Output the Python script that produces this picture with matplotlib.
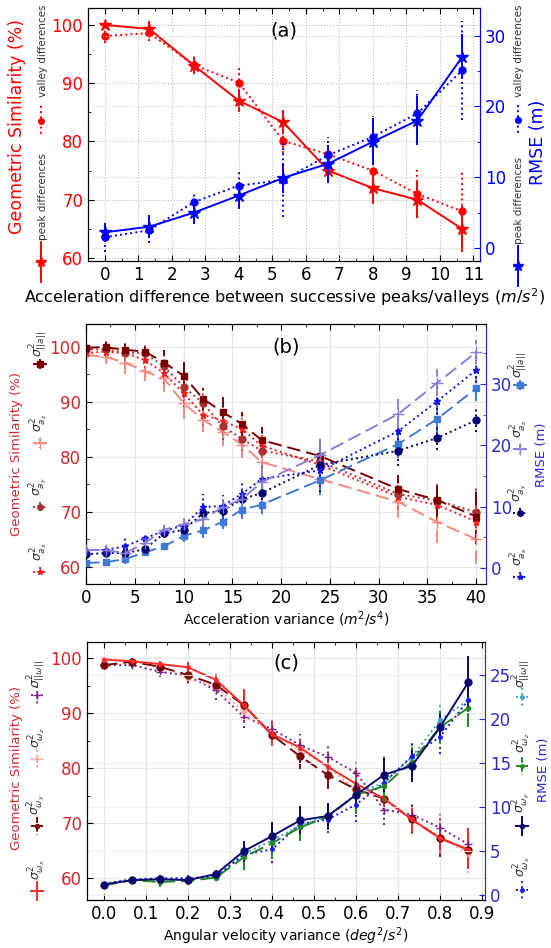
import numpy as np
import matplotlib.pyplot as plt
from matplotlib.lines import Line2D
from matplotlib.ticker import MultipleLocator, FormatStrFormatter

W, H = 551, 948

# (a) similarity / RMSE vs acceleration difference of successive extrema
acc_diff = [0, 1.33, 2.67, 4, 5.33, 6.67, 8, 9.33, 10.67]
gs_peak = [100.0, 99.3, 93.0, 87.0, 83.3, 75.0, 72.0, 70.0, 65.0]
gs_peak_err = [0.5, 1.3, 1.5, 1.9, 2.1, 2.0, 2.7, 3.0, 3.9]
gs_valley = [98.1, 98.6, 93.1, 90.1, 80.1, 77.8, 75.0, 71.0, 68.0]
gs_valley_err = [1.2, 1.4, 1.5, 3.1, 2.0, 1.5, 2.6, 4.1, 7.0]
rmse_peak = [2.2, 3.0, 5.0, 7.4, 9.9, 11.9, 15.0, 18.0, 27.0]
rmse_peak_err = [1.3, 1.6, 1.6, 1.9, 2.1, 2.7, 3.3, 3.5, 3.2]
rmse_valley = [1.5, 2.5, 6.5, 8.8, 9.6, 13.1, 15.7, 19.0, 25.1]
rmse_valley_err = [2.1, 1.8, 1.4, 2.1, 5.2, 2.6, 3.0, 3.3, 7.0]

# (b) acceleration noise variance
acc_var = [0, 2, 4, 6, 8, 10, 12, 14, 16, 18, 24, 32, 36, 40]
gs_a_norm = [99.8, 99.9, 99.4, 99.1, 97.1, 94.7, 90.5, 88.1, 85.9, 83.0, 80.1, 74.1, 72.1, 69.1]
gs_a_norm_err = [0.8, 1.5, 1.3, 1.5, 2.3, 3.5, 2.0, 2.8, 2.2, 2.3, 2.8, 2.6, 3.4, 5.0]
gs_ay = [99.5, 99.5, 98.9, 98.8, 96.4, 92.7, 89.7, 85.5, 83.2, 81.1, 79.1, 73.2, 72.0, 69.9]
gs_ay_err = [1.0, 1.2, 1.5, 1.8, 2.0, 3.0, 2.3, 2.5, 2.2, 2.2, 2.5, 2.5, 3.0, 4.5]
gs_ax = [98.8, 99.1, 98.8, 97.6, 95.2, 91.5, 87.6, 86.5, 85.0, 82.0, 78.5, 72.7, 71.2, 68.2]
gs_ax_err = [0.8, 1.0, 1.2, 1.5, 2.0, 2.5, 2.0, 2.2, 2.0, 2.0, 2.3, 2.3, 2.8, 4.0]
gs_az = [98.5, 98.1, 97.1, 95.5, 94.2, 89.7, 86.7, 84.5, 82.2, 79.0, 75.9, 71.8, 68.1, 65.0]
gs_az_err = [1.0, 1.2, 2.0, 1.8, 2.5, 2.8, 2.2, 2.5, 2.5, 2.3, 2.5, 3.0, 3.8, 4.5]
rmse_az = [2.9, 2.9, 2.4, 4.0, 6.2, 7.1, 7.9, 9.9, 11.2, 14.0, 18.4, 25.1, 30.2, 35.2]
rmse_az_err = [0.6, 0.6, 0.8, 0.8, 0.8, 1.2, 1.0, 1.2, 1.2, 2.5, 2.8, 2.5, 2.2, 2.0]
rmse_ax = [2.9, 2.9, 3.5, 4.8, 6.0, 6.9, 9.9, 10.1, 12.1, 14.5, 15.9, 22.3, 27.2, 32.3]
rmse_ax_err = [0.6, 0.8, 1.5, 0.8, 0.8, 1.0, 2.2, 1.8, 2.0, 2.5, 3.5, 3.2, 3.0, 2.2]
rmse_ay = [2.2, 2.4, 2.4, 3.0, 5.6, 6.2, 8.9, 9.3, 11.2, 12.2, 16.8, 19.1, 21.2, 24.1]
rmse_ay_err = [0.5, 0.6, 1.0, 0.8, 0.8, 1.0, 2.0, 1.5, 1.5, 2.0, 3.0, 2.5, 2.0, 2.0]
rmse_a_norm = [0.8, 0.9, 1.4, 2.5, 3.5, 5.2, 6.1, 7.5, 9.5, 10.3, 14.3, 20.2, 24.3, 29.3]
rmse_a_norm_err = [0.4, 0.5, 0.8, 0.6, 0.6, 1.0, 1.2, 1.2, 1.5, 1.5, 2.5, 2.3, 2.5, 2.0]

# (c) angular velocity noise variance
ang_var = [0, 0.067, 0.133, 0.2, 0.267, 0.333, 0.4, 0.467, 0.533, 0.6, 0.667, 0.733, 0.8, 0.867]
gs_wx = [99.8, 99.5, 99.0, 98.4, 96.1, 91.5, 86.2, 83.8, 80.3, 77.2, 74.5, 70.7, 67.3, 65.2]
gs_wx_err = [0.3, 0.4, 0.6, 1.0, 1.0, 3.0, 2.2, 1.6, 2.3, 2.5, 2.3, 2.2, 2.8, 3.5]
gs_wy = [98.8, 99.4, 98.5, 97.0, 95.2, 91.5, 86.1, 82.2, 78.8, 76.2, 74.5, 70.7, 67.3, 65.2]
gs_wy_err = [0.5, 0.6, 1.0, 1.5, 1.0, 2.5, 1.5, 2.3, 2.5, 2.5, 1.8, 2.5, 3.5, 3.5]
gs_wz = [99.9, 99.4, 98.6, 96.4, 94.8, 90.3, 86.4, 83.3, 80.3, 76.1, 74.5, 70.6, 67.6, 64.4]
gs_wz_err = [0.3, 0.4, 0.8, 1.0, 1.5, 1.8, 1.6, 1.8, 2.0, 1.8, 2.0, 2.8, 3.0, 3.5]
gs_w_norm = [98.8, 98.8, 97.6, 96.8, 94.2, 89.4, 87.2, 84.2, 82.1, 79.2, 72.5, 71.6, 69.2, 66.2]
gs_w_norm_err = [0.5, 0.6, 1.0, 1.4, 1.8, 2.0, 1.6, 2.0, 2.2, 2.2, 2.8, 2.2, 2.5, 3.0]
rmse_wy = [1.2, 1.7, 1.8, 1.7, 2.4, 5.0, 6.7, 8.5, 9.0, 11.4, 13.7, 14.7, 19.1, 24.2]
rmse_wy_err = [0.3, 0.4, 0.5, 0.4, 0.5, 1.2, 1.6, 1.6, 1.5, 1.5, 2.0, 1.8, 1.5, 3.0]
rmse_wz = [1.1, 1.7, 1.5, 1.6, 2.0, 4.3, 5.9, 7.7, 8.9, 11.4, 12.4, 15.2, 19.1, 21.3]
rmse_wz_err = [0.3, 0.4, 0.6, 0.4, 0.4, 1.4, 1.8, 1.6, 1.5, 2.2, 1.8, 1.7, 1.8, 2.2]
rmse_wx = [1.3, 1.8, 1.9, 1.9, 2.1, 4.6, 5.2, 8.1, 8.6, 10.3, 12.8, 15.8, 18.0, 22.2]
rmse_wx_err = [0.3, 0.3, 0.4, 0.4, 0.4, 1.2, 1.6, 1.6, 1.5, 2.0, 1.8, 1.7, 2.0, 2.5]
rmse_w_norm = [1.2, 1.7, 1.9, 1.9, 2.1, 4.7, 6.2, 7.9, 9.0, 11.5, 12.8, 15.7, 19.9, 22.2]
rmse_w_norm_err = [0.3, 0.3, 0.4, 0.4, 0.4, 1.2, 1.4, 1.6, 1.5, 1.8, 1.8, 1.7, 2.0, 2.5]


def fx(x):
    return x / W


def fy(y):
    return 1 - y / H


def make_axes(fig, left, top, right, bottom):
    return fig.add_axes([fx(left), fy(bottom), (right - left) / W, (bottom - top) / H])


def series(ax, x, y, err, color, ls, marker, ms, lw=1.4, elw=1.4, zorder=3):
    c = ax.errorbar(x, y, yerr=err, color=color, ls=ls, lw=lw, marker=marker,
                    ms=ms, elinewidth=elw, capsize=0, zorder=zorder)
    c[2][0].set_linestyle(ls)
    return c


def handle(fig, x, y, color, ls, marker, ms, vertical, span, bar, lw=1.4):
    # legend key drawn in pixel coordinates
    if vertical:
        fig.add_artist(Line2D([fx(x)] * 2, [fy(y - span / 2), fy(y + span / 2)],
                              color=color, ls=ls, lw=lw))
        fig.add_artist(Line2D([fx(x - bar / 2), fx(x + bar / 2)], [fy(y)] * 2,
                              color=color, ls=ls, lw=lw))
    else:
        fig.add_artist(Line2D([fx(x - span / 2), fx(x + span / 2)], [fy(y)] * 2,
                              color=color, ls=ls, lw=lw))
        fig.add_artist(Line2D([fx(x)] * 2, [fy(y - bar / 2), fy(y + bar / 2)],
                              color=color, ls=ls, lw=lw))
    fig.add_artist(Line2D([fx(x)], [fy(y)], color=color, marker=marker, ms=ms, ls='none'))


def vtext(fig, x, y, s, size, color='#333333', **kw):
    fig.text(fx(x), fy(y), s, rotation=90, ha='center', va='center',
             fontsize=size, color=color, **kw)


def style_axes(ax, ax2, lcolor, rcolor, size):
    ax.tick_params(which='both', direction='in', top=True, right=False, labelsize=size)
    ax.tick_params(axis='y', labelcolor=lcolor)
    ax2.tick_params(which='both', direction='in', labelsize=size, labelcolor=rcolor,
                    color=rcolor)
    ax2.spines['right'].set_color(rcolor)
    ax.spines['right'].set_color(rcolor)
    ax.tick_params(which='major', length=4)
    ax.tick_params(which='minor', length=2)
    ax2.tick_params(which='major', length=4)
    ax2.tick_params(which='minor', length=2)


fig = plt.figure(figsize=(W / 100, H / 100), dpi=100)

# ---------------- (a) ----------------
RED, BLUE = '#ff0000', '#0000ff'
ax = make_axes(fig, 88, 8, 480, 261)
ax2 = ax.twinx()
ax.set_xlim(-0.5, 11.2)
ax.set_ylim(59.5, 102.9)
ax2.set_ylim(-1.85, 33.9)
ax.xaxis.set_major_locator(MultipleLocator(1))
ax.xaxis.set_minor_locator(MultipleLocator(0.5))
ax.yaxis.set_major_locator(MultipleLocator(10))
ax.yaxis.set_minor_locator(MultipleLocator(5))
ax2.yaxis.set_major_locator(MultipleLocator(10))
ax2.yaxis.set_minor_locator(MultipleLocator(5))
ax.grid(True, which='major', ls=':', color='#bbbbbb', lw=0.8)
ax2.grid(True, which='major', axis='y', ls=':', color='#cccccc', lw=0.8)
style_axes(ax, ax2, RED, BLUE, 12)

series(ax, acc_diff, gs_peak, gs_peak_err, RED, '-', '*', 9)
series(ax, acc_diff, gs_valley, gs_valley_err, RED, ':', 'o', 5)
series(ax2, acc_diff, rmse_peak, rmse_peak_err, BLUE, '-', '*', 9)
series(ax2, acc_diff, rmse_valley, rmse_valley_err, BLUE, ':', 'o', 5)

ax.set_xlabel('Acceleration difference between successive peaks/valleys ($m/s^2$)',
              fontsize=11.5, labelpad=2)
ax.text(0.5, 0.91, '(a)', transform=ax.transAxes, ha='center', va='center', fontsize=14)
vtext(fig, 17, 127, 'Geometric Similarity (%)', 12.5, RED)
vtext(fig, 538, 142, 'RMSE (m)', 12.5, BLUE)
vtext(fig, 43, 51, 'valley differences', 7.5)
vtext(fig, 43, 197, 'peak differences', 7.5)
vtext(fig, 519, 51, 'valley differences', 7.5)
vtext(fig, 519, 201, 'peak differences', 7.5)
handle(fig, 41, 121, RED, ':', 'o', 4, True, 30, 7)
handle(fig, 41, 262, RED, '-', '*', 8, True, 40, 8)
handle(fig, 518, 120, BLUE, ':', 'o', 4, True, 30, 7)
handle(fig, 518, 266, BLUE, '-', '*', 8, True, 40, 8)

# ---------------- (b) ----------------
LRED, LBLUE = '#d9262b', '#2b2bd1'
C_MAROON, C_BROWN, C_RED, C_SALMON = '#7a0000', '#a83232', '#ff1a1a', '#f28a80'
C_PURPLE, C_BLUE, C_NAVY, C_CORN = '#8c7fd6', '#1010ee', '#000070', '#3f7ad8'
ax = make_axes(fig, 86, 324, 486, 584)
ax2 = ax.twinx()
ax.set_xlim(0, 41)
ax.set_ylim(56.85, 104.1)
ax2.set_ylim(-2.65, 39.8)
ax.xaxis.set_major_locator(MultipleLocator(5))
ax.xaxis.set_minor_locator(MultipleLocator(2.5))
ax.yaxis.set_major_locator(MultipleLocator(10))
ax.yaxis.set_minor_locator(MultipleLocator(5))
ax2.yaxis.set_major_locator(MultipleLocator(10))
ax2.yaxis.set_minor_locator(MultipleLocator(5))
ax.grid(True, which='major', ls='-', color='#e6e6e6', lw=0.8)
style_axes(ax, ax2, LRED, LBLUE, 12)

series(ax, acc_var, gs_az, gs_az_err, C_SALMON, (0, (7, 3)), '+', 9)
series(ax, acc_var, gs_ax, gs_ax_err, C_RED, ':', '*', 5)
series(ax, acc_var, gs_ay, gs_ay_err, C_BROWN, ':', 'o', 5)
series(ax, acc_var, gs_a_norm, gs_a_norm_err, C_MAROON, (0, (7, 3)), 's', 5)
series(ax2, acc_var, rmse_a_norm, rmse_a_norm_err, C_CORN, (0, (7, 3)), 's', 5)
series(ax2, acc_var, rmse_ay, rmse_ay_err, C_NAVY, ':', 'o', 5)
series(ax2, acc_var, rmse_ax, rmse_ax_err, C_BLUE, ':', '*', 5)
series(ax2, acc_var, rmse_az, rmse_az_err, C_PURPLE, (0, (7, 3)), '+', 9)

ax.set_xlabel('Acceleration variance ($m^2/s^4$)', fontsize=10, labelpad=2)
ax.text(0.5, 0.91, '(b)', transform=ax.transAxes, ha='center', va='center', fontsize=14)
vtext(fig, 17, 454, 'Geometric Similarity (%)', 9.5, LRED)
vtext(fig, 542, 455, 'RMSE (m)', 9.5, LBLUE)
left_b = [(r'$\sigma^2_{||a||}$', 344, C_MAROON, (0, (3, 1.5)), 's', 4),
          (r'$\sigma^2_{a_z}$', 423, C_SALMON, (0, (3, 1.5)), '+', 8),
          (r'$\sigma^2_{a_y}$', 487, C_BROWN, ':', 'o', 4),
          (r'$\sigma^2_{a_x}$', 552, C_RED, ':', '*', 4)]
right_b = [(r'$\sigma^2_{||a||}$', 365, C_CORN, (0, (3, 1.5)), 's', 4),
           (r'$\sigma^2_{a_z}$', 429, C_PURPLE, (0, (3, 1.5)), '+', 8),
           (r'$\sigma^2_{a_y}$', 493, C_NAVY, ':', 'o', 4),
           (r'$\sigma^2_{a_x}$', 557, C_BLUE, ':', '*', 4)]
for lab, y, c, ls, m, ms in left_b:
    vtext(fig, 39, y, lab, 9)
    handle(fig, 40, y + 20, c, ls, m, ms, False, 14, 10)
for lab, y, c, ls, m, ms in right_b:
    vtext(fig, 519, y, lab, 9)
    handle(fig, 520, y + 20, c, ls, m, ms, False, 14, 10)

# ---------------- (c) ----------------
W_RED, W_MAROON, W_SALMON, W_PURPLE = '#ff2a2a', '#7a0a0a', '#f5a59a', '#7a1f8a'
W_NAVY, W_GREEN, W_BLUE, W_LIGHT = '#0a0a6e', '#1f8a1f', '#1a1aff', '#3f9fd0'
ax = make_axes(fig, 87, 642, 485, 900)
ax2 = ax.twinx()
ax.set_xlim(-0.04, 0.907)
ax.set_ylim(56.05, 103.0)
ax2.set_ylim(-0.56, 28.8)
ax.xaxis.set_major_locator(MultipleLocator(0.1))
ax.xaxis.set_minor_locator(MultipleLocator(0.05))
ax.xaxis.set_major_formatter(FormatStrFormatter('%.1f'))
ax.yaxis.set_major_locator(MultipleLocator(10))
ax.yaxis.set_minor_locator(MultipleLocator(5))
ax2.yaxis.set_major_locator(MultipleLocator(5))
ax.grid(True, which='major', ls='-', color='#e6e6e6', lw=0.8)
ax2.grid(True, which='major', axis='y', ls='-', color='#eeeeee', lw=0.6)
style_axes(ax, ax2, LRED, LBLUE, 12)

series(ax, ang_var, gs_w_norm, gs_w_norm_err, W_PURPLE, ':', '+', 6)
series(ax, ang_var, gs_wz, gs_wz_err, W_SALMON, ':', '.', 6)
series(ax, ang_var, gs_wy, gs_wy_err, W_MAROON, (0, (7, 3)), 'o', 5)
series(ax, ang_var, gs_wx, gs_wx_err, W_RED, '-', '.', 5)
series(ax2, ang_var, rmse_w_norm, rmse_w_norm_err, W_LIGHT, ':', '.', 6)
series(ax2, ang_var, rmse_wx, rmse_wx_err, W_BLUE, ':', '.', 5)
series(ax2, ang_var, rmse_wz, rmse_wz_err, W_GREEN, (0, (7, 3)), '.', 6)
series(ax2, ang_var, rmse_wy, rmse_wy_err, W_NAVY, '-', 'o', 5)

ax.set_xlabel('Angular velocity variance ($deg^2/s^2$)', fontsize=10, labelpad=2)
ax.text(0.5, 0.92, '(c)', transform=ax.transAxes, ha='center', va='center', fontsize=14)
vtext(fig, 17, 768, 'Geometric Similarity (%)', 9.5, LRED)
vtext(fig, 544, 770, 'RMSE (m)', 9.5, LBLUE)
left_c = [(r'$\sigma^2_{||\omega||}$', 674, W_PURPLE, ':', '+', 6),
          (r'$\sigma^2_{\omega_z}$', 738, W_SALMON, ':', '+', 6),
          (r'$\sigma^2_{\omega_y}$', 805, W_MAROON, (0, (3, 1.5)), 'o', 3),
          (r'$\sigma^2_{\omega_x}$', 870, W_RED, '-', '', 0)]
right_c = [(r'$\sigma^2_{||\omega||}$', 674, W_LIGHT, ':', '.', 5),
           (r'$\sigma^2_{\omega_z}$', 743, W_GREEN, (0, (3, 1.5)), '.', 5),
           (r'$\sigma^2_{\omega_y}$', 803, W_NAVY, '-', 'o', 3),
           (r'$\sigma^2_{\omega_x}$', 867, W_BLUE, ':', '.', 5)]
for lab, y, c, ls, m, ms in left_c:
    vtext(fig, 37, y, lab, 9)
    handle(fig, 37, y + 21, c, ls, m, ms, False, 12, 18)
for lab, y, c, ls, m, ms in right_c:
    vtext(fig, 522, y, lab, 9)
    handle(fig, 522, y + 23, c, ls, m, ms, False, 12, 18)

fig.savefig('out.png', dpi=100)
